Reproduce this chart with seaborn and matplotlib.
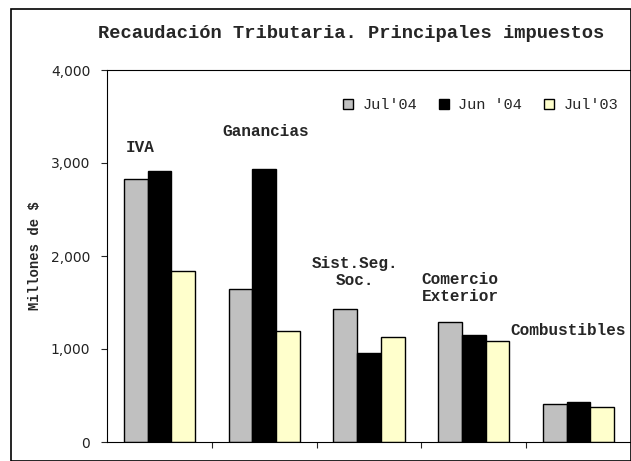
import pandas as pd
import matplotlib
matplotlib.use("Agg")
import matplotlib.pyplot as plt
import seaborn as sns
from matplotlib.patches import Rectangle

# Data (millones de $)
categorias = ["IVA", "Ganancias", "Sist.Seg.\nSoc.", "Comercio\nExterior", "Combustibles"]
periodos = ["Jul'04", "Jun '04", "Jul'03"]
jul04 = [2830, 1645, 1430, 1290, 412]
jun04 = [2910, 2935, 957, 1150, 433]
jul03 = [1842, 1194, 1129, 1090, 376]
y_ticks = [0, 1000, 2000, 3000, 4000]

df = pd.DataFrame({
    "cat": categorias * 3,
    "periodo": [periodos[0]] * 5 + [periodos[1]] * 5 + [periodos[2]] * 5,
    "valor": jul04 + jun04 + jul03,
})

sns.set_style("white")
mono = ["Liberation Mono", "DejaVu Sans Mono"]
narrow = ["Liberation Sans Narrow", "DejaVu Sans"]

fig = plt.figure(figsize=(6.31, 4.61), dpi=100)
ax = fig.add_axes([107 / 631, 1 - 442 / 461, 1 - 107 / 631, (442 - 70) / 461])

colores = ["#c0c0c0", "#000000", "#ffffcc"]
sns.barplot(data=df, x="cat", y="valor", hue="periodo", order=categorias,
            hue_order=periodos, palette=colores, width=0.68, gap=0,
            edgecolor="black", linewidth=1, saturation=1, ax=ax)

ax.set_xlim(-0.5, 4.5)
ax.set_ylim(0, 4000)
ax.set_yticks(y_ticks)
ax.set_yticklabels([f"{v:,}" for v in y_ticks], family=narrow, fontsize=10, color="#222222")
ax.tick_params(axis="y", length=4, width=0.8, left=True, direction="out", pad=8)
ax.set_xticks([])
ax.set_xticks([0.5, 1.5, 2.5, 3.5], minor=True)
ax.tick_params(axis="x", which="minor", length=4, width=0.8, bottom=True, direction="out")
ax.set_xlabel("")
ax.set_ylabel("Millones de $", family=mono, fontweight="bold", fontsize=10, labelpad=6)

for side in ["left", "bottom", "top"]:
    ax.spines[side].set_visible(True)
    ax.spines[side].set_color("black")
    ax.spines[side].set_linewidth(0.8)
ax.spines["right"].set_visible(False)

# category labels above the groups
pos_etiquetas = [(-0.18, 3172), (1.01, 3344), (1.87, 1828), (2.87, 1656), (3.90, 1204)]
for txt, (x, y) in zip(categorias, pos_etiquetas):
    ax.text(x, y, txt, ha="center", va="center", family=mono,
            fontweight="bold", fontsize=11.5, linespacing=1.2)

leg = ax.legend(loc="upper left", bbox_to_anchor=(0.438, 0.94), ncol=3, frameon=False,
                prop={"family": mono, "size": 11}, handlelength=0.7, handleheight=0.7,
                handletextpad=0.6, columnspacing=1.4, borderaxespad=0)

fig.text(351 / 631, 1 - 33 / 461, "Recaudación Tributaria. Principales impuestos",
         ha="center", va="center", family=mono, fontweight="bold", fontsize=13.5)

fig.patches.append(Rectangle((11 / 631, 0), 1 - 11 / 631, 1 - 9 / 461, transform=fig.transFigure,
                             fill=False, edgecolor="black", linewidth=1.2))

fig.savefig("out.png", dpi=100)
